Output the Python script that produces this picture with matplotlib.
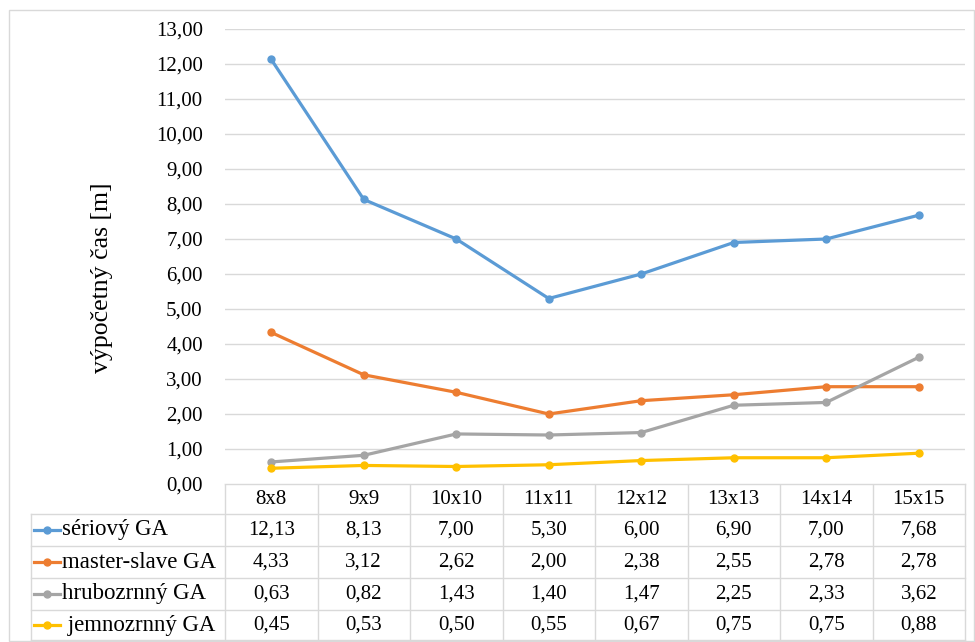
import matplotlib.pyplot as plt
from matplotlib.lines import Line2D
from matplotlib.patches import Rectangle
import numpy as np

plt.rcParams['font.family'] = ['Liberation Serif', 'DejaVu Serif']

categories = ['8x8', '9x9', '10x10', '11x11', '12x12', '13x13', '14x14', '15x15']
seriovy = [12.13, 8.13, 7.00, 5.30, 6.00, 6.90, 7.00, 7.68]
master_slave = [4.33, 3.12, 2.62, 2.00, 2.38, 2.55, 2.78, 2.78]
hrubozrnny = [0.63, 0.82, 1.43, 1.40, 1.47, 2.25, 2.33, 3.62]
jemnozrnny = [0.45, 0.53, 0.50, 0.55, 0.67, 0.75, 0.75, 0.88]
series_names = ['sériový GA', 'master-slave GA', 'hrubozrnný GA', ' jemnozrnný GA']
colors = ['#5B9BD5', '#ED7D31', '#A5A5A5', '#FFC000']
series = [seriovy, master_slave, hrubozrnny, jemnozrnny]

W, H = 975, 642
fig = plt.figure(figsize=(W / 100, H / 100), dpi=100)
grid_c = '#D9D9D9'
fs = 15

# plot area in pixels
x0, x1 = 225, 965
y_top, y_zero = 29, 484

ax = fig.add_axes([x0 / W, 1 - y_zero / H, (x1 - x0) / W, (y_zero - y_top) / H])
x = np.arange(len(categories))
for vals, c in zip(series, colors):
    ax.plot(x, vals, color=c, lw=2.3, marker='o', ms=5, zorder=3)
ax.set_xlim(-0.5, len(categories) - 0.5)
ax.set_ylim(0, 13)
ax.set_yticks(np.arange(0, 14, 1))
ax.set_yticklabels([f'{v:.2f}'.replace('.', ',') for v in range(14)], fontsize=fs)
ax.tick_params(axis='y', length=0, pad=16)
ax.set_xticks([])
ax.grid(axis='y', color=grid_c, lw=1)
ax.set_axisbelow(True)
for s in ax.spines.values():
    s.set_visible(False)

# data table drawn in pixel coordinates
tab = fig.add_axes([0, 0, 1, 1], zorder=-1)
tab.set_xlim(0, W)
tab.set_ylim(H, 0)
tab.axis('off')

tab.add_patch(Rectangle((8.5, 9.5), 965, 631, fill=False, ec=grid_c, lw=1))
tab.text(102, 278, 'výpočetný čas [m]', rotation=90, ha='center', va='center',
         fontsize=18.5)

col_w = (x1 - x0) / len(categories)
col_edges = [x0 + i * col_w for i in range(len(categories) + 1)]
rows = [484, 514, 546, 578, 610, 640]
left = 31

tab.plot([x0, x1], [rows[0], rows[0]], color=grid_c, lw=1)
for yy in rows[1:]:
    tab.plot([left, x1], [yy, yy], color=grid_c, lw=1)
for xx in col_edges:
    tab.plot([xx, xx], [rows[0], rows[-1]], color=grid_c, lw=1)
tab.plot([left, left], [rows[1], rows[-1]], color=grid_c, lw=1)

for i, cat in enumerate(categories):
    tab.text(x0 + (i + 0.5) * col_w, (rows[0] + rows[1]) / 2, cat,
             ha='center', va='center', fontsize=fs)

for r, (name, vals, c) in enumerate(zip(series_names, series, colors)):
    yc = (rows[r + 1] + rows[r + 2]) / 2
    tab.add_line(Line2D([34, 60], [yc, yc], color=c, lw=2.3))
    tab.plot([47], [yc], marker='o', ms=5, color=c)
    tab.text(62, yc, name, ha='left', va='center', fontsize=16.5)
    for i, v in enumerate(vals):
        tab.text(x0 + (i + 0.5) * col_w, yc, f'{v:.2f}'.replace('.', ','),
                 ha='center', va='center', fontsize=fs)

fig.savefig('out.png', dpi=100)
